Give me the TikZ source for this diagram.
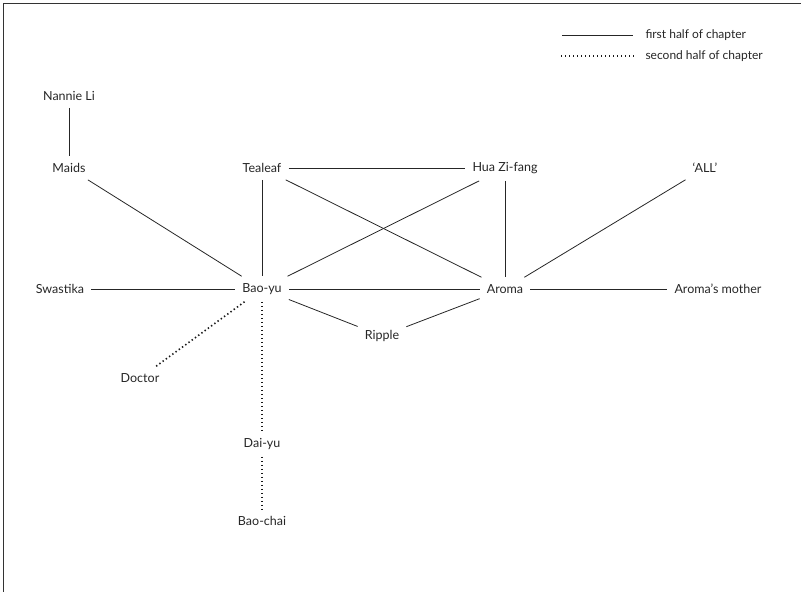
\documentclass[tikz,border=0pt]{standalone}
\usepackage{fontspec}
\setmainfont{Lato}

\begin{document}
\begin{tikzpicture}[x=1bp, y=-1bp,
  person/.style={inner sep=7bp, font=\fontsize{12.5bp}{14bp}\selectfont, text=black!85},
  first/.style={line width=0.8bp, black!85},
  second/.style={line width=1.6bp, black!90, dash pattern=on 1.4bp off 2.6bp},
  key/.style={anchor=west, font=\fontsize{12bp}{14bp}\selectfont, text=black!85}]
\useasboundingbox (0,0) rectangle (801,592);
\draw[line width=0.8bp, black!80] (3,592) -- (3,3) -- (801,3);

% legend
\coordinate (k1a) at (562,35);
\coordinate (k1b) at (633,35);
\coordinate (k2a) at (561,56);
\coordinate (k2b) at (635,56);
\draw[first] (k1a) -- (k1b);
\draw[second] (k2a) -- (k2b);
\node[key] (k1) at (642,35) {first half of chapter};
\node[key] (k2) at (642,56) {second half of chapter};

% people
\node[person] (nannie) at (69,96) {Nannie Li};
\node[person] (maids) at (69,168) {Maids};
\node[person] (tealeaf) at (262,168) {Tealeaf};
\node[person] (hua) at (505,168) {Hua Zi-fang};
\node[person] (all) at (705,168) {`ALL'};
\node[person] (swastika) at (60,289) {Swastika};
\node[person] (baoyu) at (262,289) {Bao-yu};
\node[person] (aroma) at (505,289) {Aroma};
\node[person] (mother) at (718,289) {Aroma's mother};
\node[person] (ripple) at (382,336) {Ripple};
\node[person] (doctor) at (140,378) {Doctor};
\node[person] (daiyu) at (262,444) {Dai-yu};
\node[person] (baochai) at (262,521) {Bao-chai};

% first half
\draw[first] (nannie) -- (maids);
\draw[first] (maids) -- (baoyu);
\draw[first] (tealeaf) -- (baoyu);
\draw[first] (tealeaf) -- (hua);
\draw[first] (tealeaf) -- (aroma);
\draw[first] (hua) -- (baoyu);
\draw[first] (hua) -- (aroma);
\draw[first] (all) -- (aroma);
\draw[first] (swastika) -- (baoyu);
\draw[first] (baoyu) -- (aroma);
\draw[first] (aroma) -- (mother);
\draw[first] (baoyu) -- (ripple);
\draw[first] (ripple) -- (aroma);

% second half
\draw[second] (baoyu) -- (doctor);
\draw[second] (baoyu) -- (daiyu);
\draw[second] (daiyu) -- (baochai);
\end{tikzpicture}
\end{document}
